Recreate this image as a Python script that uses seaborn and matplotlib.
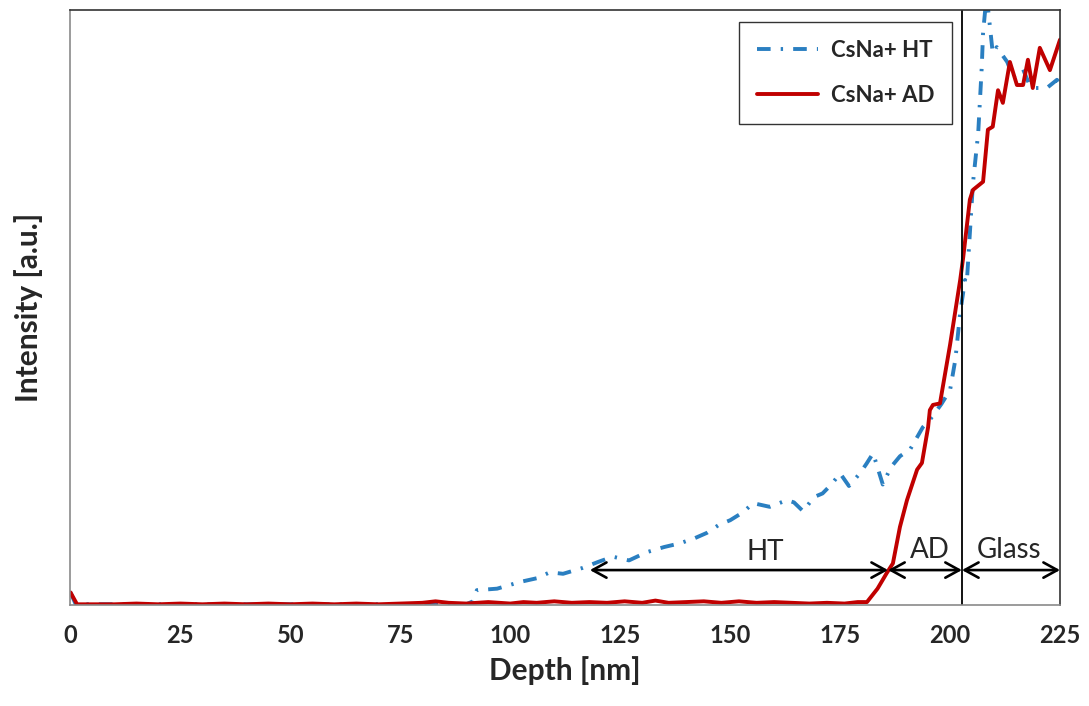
import matplotlib
matplotlib.use('Agg')
import matplotlib.pyplot as plt
import pandas as pd
import seaborn as sns

# depth [nm] and intensity [a.u.]
ht_depth = [0, 1.2, 10, 20, 30, 40, 50, 60, 70, 80, 90, 91.5,
            92.4, 97, 102.2, 106, 109, 112, 116.5, 120, 123.3, 127, 131, 135,
            138.6, 142, 144.7, 147.5, 150, 153, 155.2, 159, 162.9, 164.5, 166.6,
            169, 171, 173, 175, 177, 179.5, 181, 182.5, 183.5, 184.7, 186.5,
            188.6, 191, 193.8, 195.4, 198, 200, 201.2, 202.3, 203.4, 203.8,
            205.2, 206.4, 207.2, 207.5, 208.3, 209.7, 210.6, 213, 214.3, 216.6,
            218, 219.3, 222, 224.3, 225]
ht_int = [0.17, 0.01, 0.01, 0.01, 0.01, 0.01, 0.01, 0.01, 0.01, 0.01, 0.01, 0.05,
          0.2, 0.22, 0.31, 0.36, 0.44, 0.42, 0.5, 0.58, 0.65, 0.6, 0.71, 0.78,
          0.83, 0.9, 0.97, 1.08, 1.14, 1.25, 1.37, 1.32, 1.41, 1.38, 1.26,
          1.45, 1.5, 1.62, 1.77, 1.6, 1.77, 1.9, 2.04, 1.85, 1.62, 1.85,
          2.0, 2.1, 2.39, 2.49, 2.7, 2.89, 3.3, 3.93, 4.37, 4.33,
          5.67, 6.35, 7.23, 7.69, 8.2, 7.42, 7.5, 7.3, 7.1, 7.2,
          7.0, 6.95, 6.95, 7.06, 7.0]

ad_depth = [0, 1.5, 5, 10, 15, 20, 25, 30, 35, 40, 45, 50, 55, 60, 65, 70, 75,
            80, 83, 86, 90, 95, 100, 103, 106, 110, 114, 118, 122, 126, 130,
            133, 136, 140, 144, 148, 152, 156, 160, 164, 168, 172, 176, 179,
            181.1, 183.5, 185.6, 187, 188.6, 190.2, 192.5, 193.6, 195, 195.4,
            196.1, 197.7, 200, 202.3, 203, 204.5, 205.2, 207.5, 208.6, 209.7,
            210.9, 212, 213.6, 215.2, 216.6, 217.7, 218.8, 220.4, 222.7, 225]
ad_int = [0.17, 0.01, 0.01, 0.01, 0.02, 0.01, 0.02, 0.01, 0.02, 0.01, 0.02, 0.01,
          0.02, 0.01, 0.02, 0.01, 0.02, 0.03, 0.05, 0.03, 0.02, 0.04, 0.02,
          0.04, 0.03, 0.05, 0.03, 0.04, 0.03, 0.05, 0.03, 0.06, 0.03, 0.04,
          0.05, 0.03, 0.05, 0.03, 0.04, 0.03, 0.02, 0.03, 0.02, 0.04,
          0.04, 0.22, 0.43, 0.56, 1.05, 1.41, 1.82, 1.91, 2.39, 2.62,
          2.69, 2.71, 3.5, 4.37, 4.68, 5.45, 5.58, 5.69, 6.39, 6.43,
          6.92, 6.75, 7.3, 6.99, 6.99, 7.33, 6.95, 7.49, 7.19, 7.6]

series_labels = ['CsNa+ HT', 'CsNa+ AD']
x_ticks = [0, 25, 50, 75, 100, 125, 150, 175, 200, 225]
y_ticks = [0, 1, 2, 3, 4, 5, 6, 7, 8]

# region boundaries (depth) and arrow height
region_edges = [118.1, 185.9, 202.7, 225]
region_names = ['HT', 'AD', 'Glass']
interface_depth = 202.7
arrow_y = 0.47

ht_df = pd.DataFrame({'Depth': ht_depth, 'Intensity': ht_int})
ad_df = pd.DataFrame({'Depth': ad_depth, 'Intensity': ad_int})

sns.set_style('white')
plt.rcParams['font.family'] = ['Lato', 'DejaVu Sans']

fig = plt.figure(figsize=(10.89, 7.06), dpi=100)
ax = fig.add_axes([0.0647, 0.143, 0.9087, 0.843])

blue = '#2a7fc1'
red = '#c00000'
dash_dot = [3.5, 2.6, 0.6, 2.6]

sns.lineplot(data=ht_df, x='Depth', y='Intensity', ax=ax, color=blue,
             linewidth=2.8, sort=False, estimator=None, label=series_labels[0])
ax.lines[-1].set_dashes(dash_dot)
sns.lineplot(data=ad_df, x='Depth', y='Intensity', ax=ax, color=red,
             linewidth=2.8, sort=False, estimator=None, label=series_labels[1])

ax.axvline(interface_depth, color='black', linewidth=1.3)

# region arrows and labels
for i, name in enumerate(region_names):
    x0, x1 = region_edges[i], region_edges[i + 1]
    ax.annotate('', xy=(x1, arrow_y), xytext=(x0, arrow_y),
                arrowprops=dict(arrowstyle='<->,head_length=1.0,head_width=0.55',
                                color='black', lw=1.9, shrinkA=0, shrinkB=0))
label_pos = [(157.9, 0.54), (195.4, 0.57), (213.4, 0.57)]
for name, (lx, ly) in zip(region_names, label_pos):
    ax.text(lx, ly, name, ha='center', va='bottom', fontsize=20)

ax.set_xlim(0, 225)
ax.set_ylim(0, 8)
ax.set_xticks(x_ticks)
ax.set_yticks(y_ticks)
ax.set_yticklabels([])
ax.tick_params(axis='x', direction='out', length=6, width=1, color='#8a8a8a',
               labelsize=17, pad=8)
ax.tick_params(axis='y', direction='out', length=6, width=1, color='#8a8a8a')
for lbl in ax.get_xticklabels():
    lbl.set_fontweight('bold')

ax.set_xlabel('Depth [nm]', fontsize=21.5, fontweight='bold', labelpad=6)
ax.set_ylabel('Intensity [a.u.]', fontsize=21.5, fontweight='bold', labelpad=10)

for side in ['left', 'bottom']:
    ax.spines[side].set_color('#8a8a8a')
    ax.spines[side].set_linewidth(1.2)
for side in ['top', 'right']:
    ax.spines[side].set_color('#333333')
    ax.spines[side].set_linewidth(1.2)

leg = ax.legend(loc='upper left', bbox_to_anchor=(0.676, 0.98), frameon=True,
                fancybox=False, edgecolor='black', handlelength=2.75,
                labelspacing=1.1, borderpad=0.8, handletextpad=0.55,
                borderaxespad=0, prop={'weight': 'bold', 'size': 16})
leg.get_frame().set_linewidth(1.0)
leg.get_lines()[0].set_dashes(dash_dot)

fig.savefig('out.png', dpi=100)
